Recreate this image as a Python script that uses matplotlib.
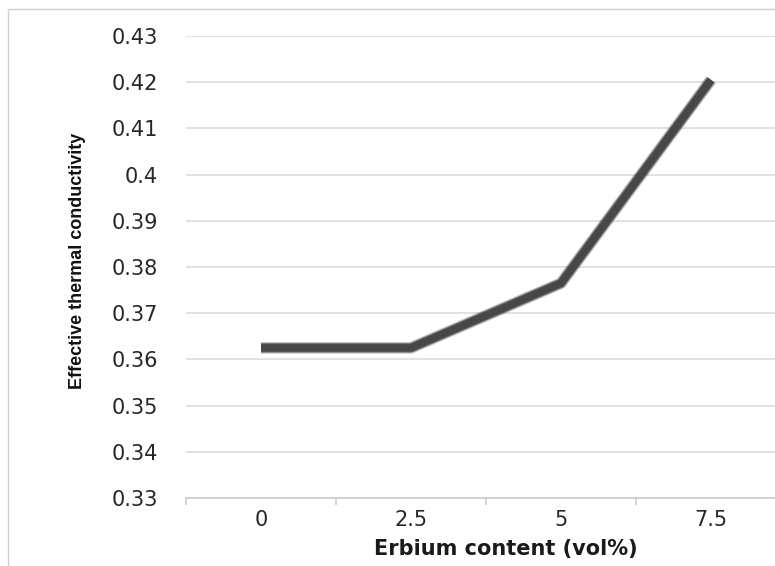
import matplotlib
matplotlib.use("Agg")
import matplotlib.pyplot as plt
import matplotlib.patheffects as pe
from matplotlib.patches import Rectangle
from matplotlib.ticker import FixedLocator, MultipleLocator

# data
erbium_labels = ["0", "2.5", "5", "7.5"]
conductivity = [0.3625, 0.3625, 0.3765, 0.4205]
y_ticks = [0.33, 0.34, 0.35, 0.36, 0.37, 0.38, 0.39, 0.40, 0.41, 0.42, 0.43]
y_tick_labels = ["0.33", "0.34", "0.35", "0.36", "0.37", "0.38", "0.39",
                 "0.4", "0.41", "0.42", "0.43"]

fig = plt.figure(figsize=(7.75, 5.66), dpi=100)
ax = fig.add_axes([186 / 775, 68 / 566, 600 / 775, 462 / 566])

# chart area border (only left/top visible in the crop)
fig.patches.append(Rectangle((8 / 775, -0.1), 1.2, (566 - 9) / 566 + 0.1,
                             transform=fig.transFigure, fill=False,
                             edgecolor="#d0d0d0", linewidth=1.0))

x = list(range(len(erbium_labels)))
ax.plot(x, conductivity, color="#474747", linewidth=5.2,
        solid_capstyle="butt", solid_joinstyle="round", zorder=3,
        path_effects=[pe.Stroke(linewidth=8.5, foreground="#000000", alpha=0.22),
                      pe.Stroke(linewidth=6.8, foreground="#1a1a1a", alpha=0.55),
                      pe.Normal()])

ax.set_xlim(-0.5, len(erbium_labels) - 0.5)
ax.set_ylim(0.33, 0.43)

ax.yaxis.set_major_locator(FixedLocator(y_ticks))
ax.set_yticklabels(y_tick_labels)
ax.set_xticks(x)
ax.set_xticklabels(erbium_labels)
ax.xaxis.set_minor_locator(MultipleLocator(1.0, offset=0.5))

ax.grid(axis="y", color="#d9d9d9", linewidth=1.1)
ax.set_axisbelow(True)
for side in ("top", "right", "left"):
    ax.spines[side].set_visible(False)
ax.spines["bottom"].set_color("#c8c8c8")
ax.spines["bottom"].set_linewidth(1.1)

ax.tick_params(axis="y", length=0, pad=20, labelsize=15, labelcolor="#262626")
ax.tick_params(axis="x", which="major", length=0, pad=9, labelsize=15,
               labelcolor="#262626")
ax.tick_params(axis="x", which="minor", length=5, width=1.1, color="#c8c8c8",
               direction="out")

ax.set_xlabel("Erbium content (vol%)", fontsize=15, fontweight="bold",
              color="#1a1a1a")
ax.xaxis.set_label_coords((506 - 186) / 600, -(539 - 498) / 462)

fig.text(77 / 775, 1 - 261 / 566, "Effective thermal conductivity",
         rotation=90, ha="center", va="center", fontsize=13, fontweight="bold",
         family=["Liberation Sans", "DejaVu Sans"], color="#111111")

fig.savefig("out.png", dpi=100)
